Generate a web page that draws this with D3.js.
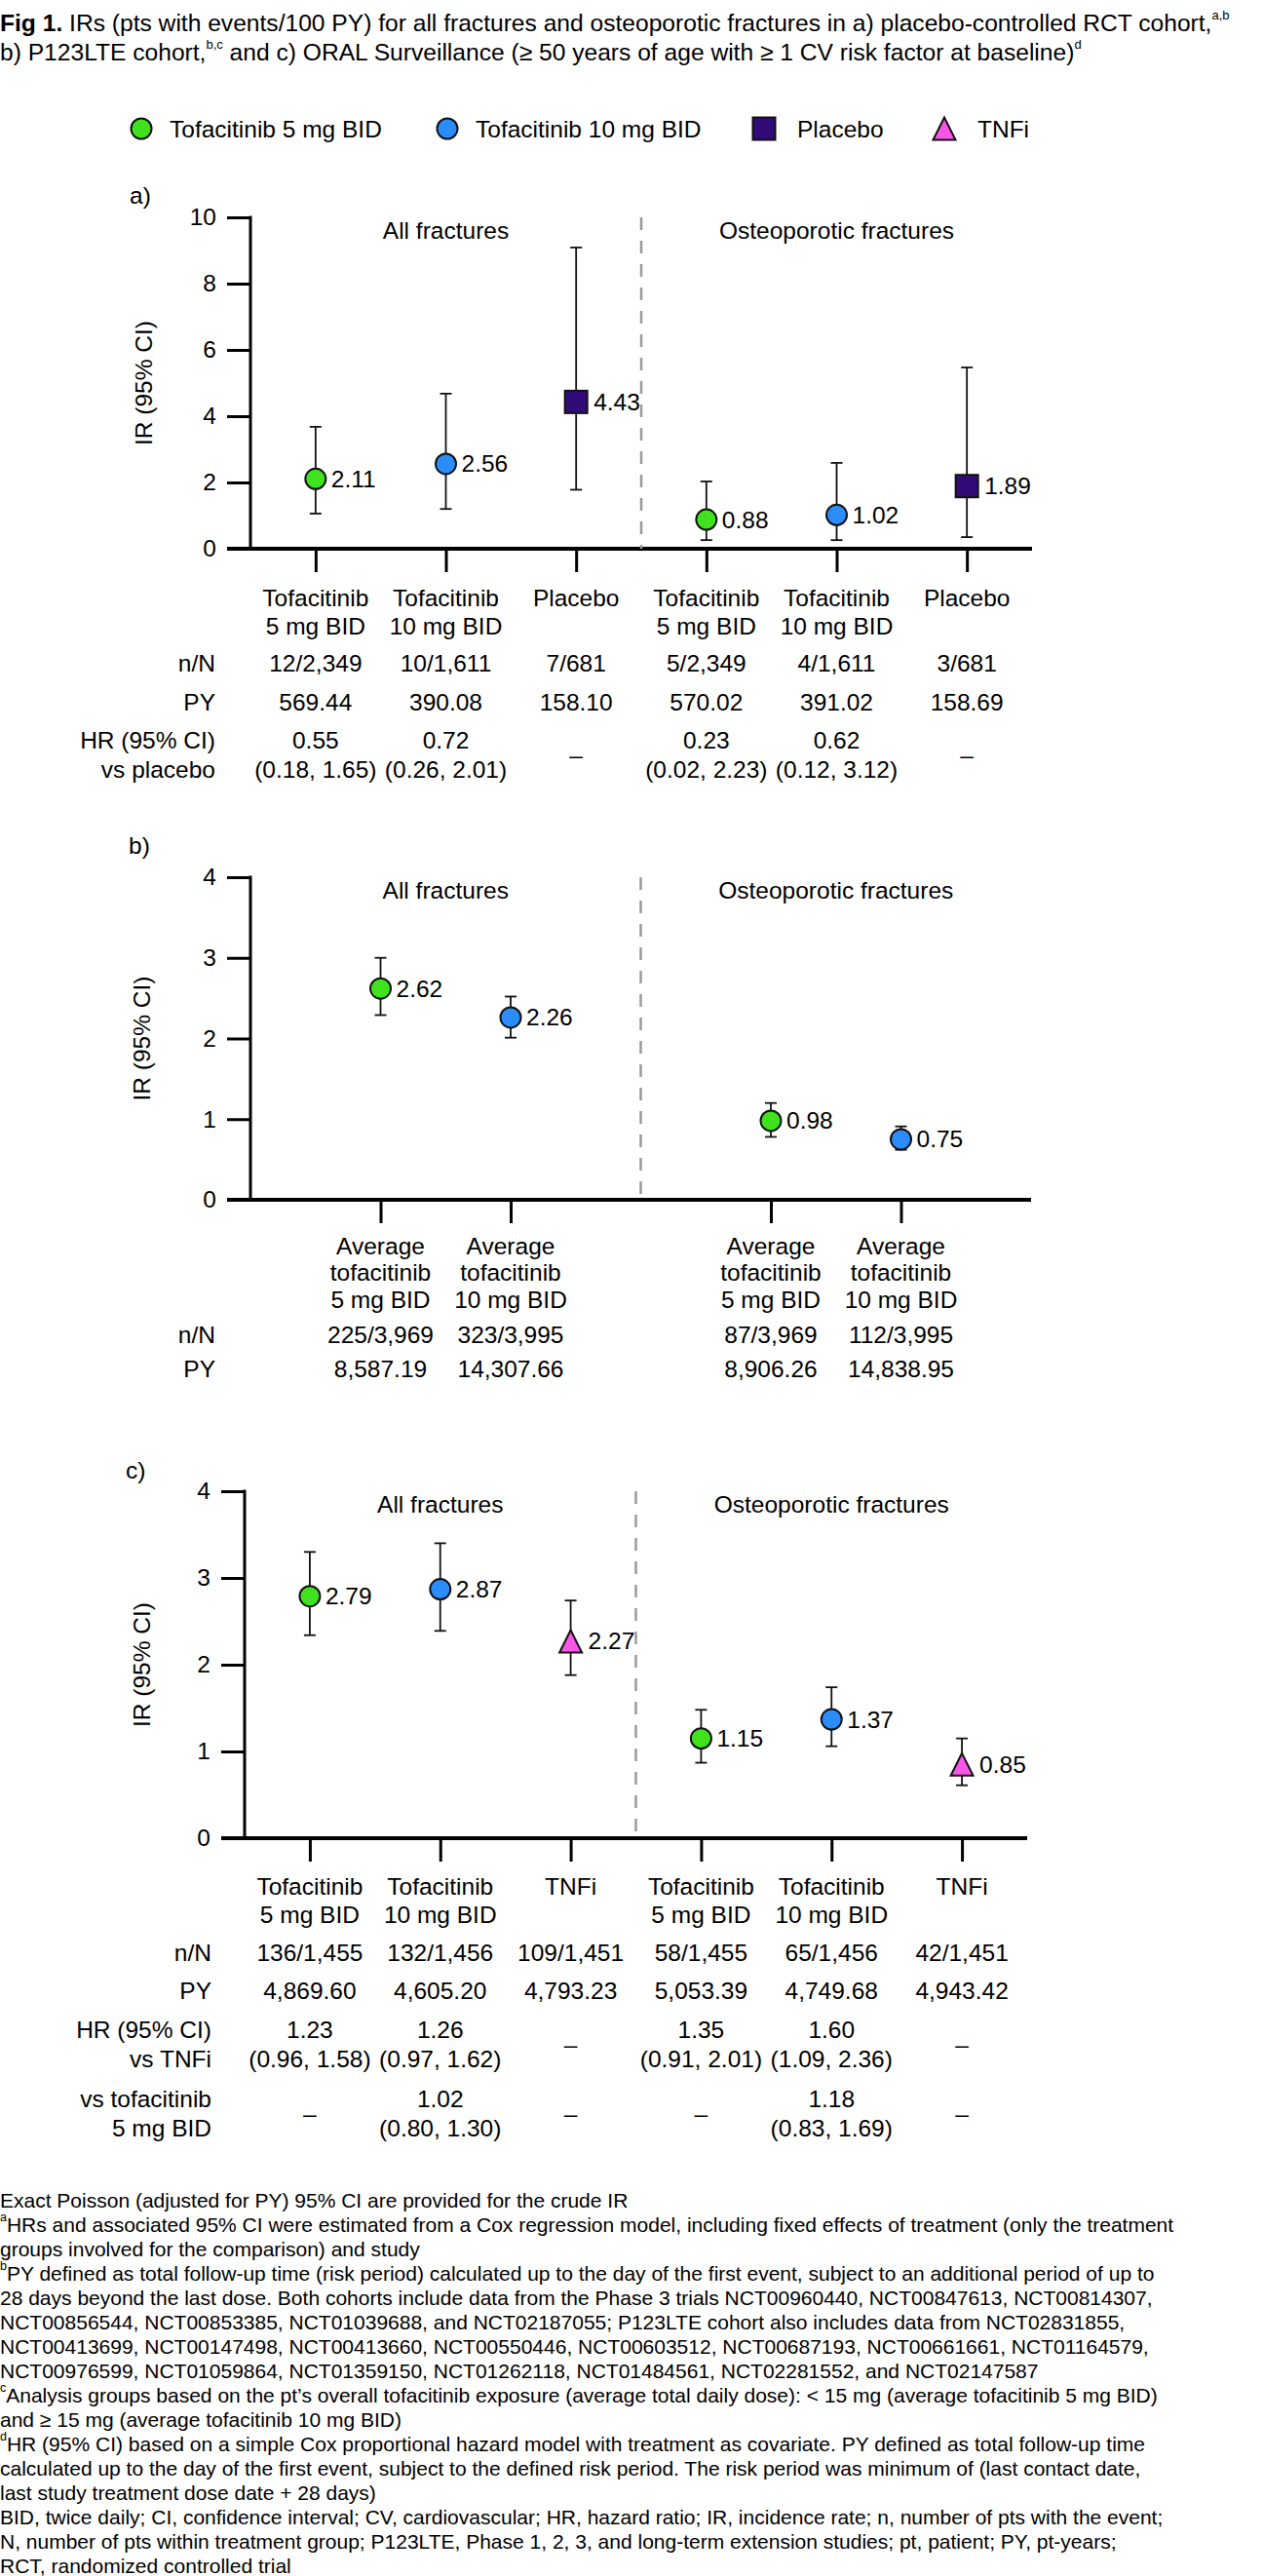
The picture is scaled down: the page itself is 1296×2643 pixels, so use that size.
<!DOCTYPE html>
<html>
<head>
<meta charset="utf-8">
<script src="https://cdn.jsdelivr.net/npm/d3@7"></script>
<style>
  body { margin: 0; background: #fff; }
  svg { display: block; font-family: "Liberation Sans", Arial, Helvetica, sans-serif; }
</style>
</head>
<body>
<svg id="chart"></svg>
<script>
// ---- data ----
const legendLabels = ["Tofacitinib 5 mg BID", "Tofacitinib 10 mg BID", "Placebo", "TNFi"];
const legendKeys = ["t5", "t10", "pbo", "tnfi"];
const colors = {t5: "#3fe21c", t10: "#2b8cfb", pbo: "#310c78", tnfi: "#f955e8"};

// a) placebo-controlled RCT cohort
const catA = [["Tofacitinib", "5 mg BID"], ["Tofacitinib", "10 mg BID"], ["Placebo"],
              ["Tofacitinib", "5 mg BID"], ["Tofacitinib", "10 mg BID"], ["Placebo"]];
const trtA = ["t5", "t10", "pbo", "t5", "t10", "pbo"];
const irA = [2.11, 2.56, 4.43, 0.88, 1.02, 1.89];
const loA = [1.06, 1.20, 1.78, 0.26, 0.26, 0.35];
const hiA = [3.68, 4.68, 9.09, 2.03, 2.59, 5.47];
const nA = ["12/2,349", "10/1,611", "7/681", "5/2,349", "4/1,611", "3/681"];
const pyA = ["569.44", "390.08", "158.10", "570.02", "391.02", "158.69"];
const hrA = [["0.55", "(0.18, 1.65)"], ["0.72", "(0.26, 2.01)"], ["–"],
             ["0.23", "(0.02, 2.23)"], ["0.62", "(0.12, 3.12)"], ["–"]];
const ticksA = [0, 2, 4, 6, 8, 10];

// b) P123LTE cohort
const catB = [["Average", "tofacitinib", "5 mg BID"], ["Average", "tofacitinib", "10 mg BID"],
              ["Average", "tofacitinib", "5 mg BID"], ["Average", "tofacitinib", "10 mg BID"]];
const trtB = ["t5", "t10", "t5", "t10"];
const irB = [2.62, 2.26, 0.98, 0.75];
const loB = [2.29, 2.01, 0.78, 0.62];
const hiB = [3.00, 2.52, 1.20, 0.91];
const nB = ["225/3,969", "323/3,995", "87/3,969", "112/3,995"];
const pyB = ["8,587.19", "14,307.66", "8,906.26", "14,838.95"];
const ticksB = [0, 1, 2, 3, 4];

// c) ORAL Surveillance
const catC = [["Tofacitinib", "5 mg BID"], ["Tofacitinib", "10 mg BID"], ["TNFi"],
              ["Tofacitinib", "5 mg BID"], ["Tofacitinib", "10 mg BID"], ["TNFi"]];
const trtC = ["t5", "t10", "tnfi", "t5", "t10", "tnfi"];
const irC = [2.79, 2.87, 2.27, 1.15, 1.37, 0.85];
const loC = [2.34, 2.39, 1.88, 0.87, 1.06, 0.61];
const hiC = [3.30, 3.40, 2.74, 1.48, 1.74, 1.15];
const nC = ["136/1,455", "132/1,456", "109/1,451", "58/1,455", "65/1,456", "42/1,451"];
const pyC = ["4,869.60", "4,605.20", "4,793.23", "5,053.39", "4,749.68", "4,943.42"];
const hrC = [["1.23", "(0.96, 1.58)"], ["1.26", "(0.97, 1.62)"], ["–"],
             ["1.35", "(0.91, 2.01)"], ["1.60", "(1.09, 2.36)"], ["–"]];
const hrC5 = [["–"], ["1.02", "(0.80, 1.30)"], ["–"], ["–"], ["1.18", "(0.83, 1.69)"], ["–"]];
const ticksC = [0, 1, 2, 3, 4];

const headings = ["All fractures", "Osteoporotic fractures"];

const footnotes = [
  ["", "Exact Poisson (adjusted for PY) 95% CI are provided for the crude IR"],
  ["a", "HRs and associated 95% CI were estimated from a Cox regression model, including fixed effects of treatment (only the treatment"],
  ["", "groups involved for the comparison) and study"],
  ["b", "PY defined as total follow-up time (risk period) calculated up to the day of the first event, subject to an additional period of up to"],
  ["", "28 days beyond the last dose. Both cohorts include data from the Phase 3 trials NCT00960440, NCT00847613, NCT00814307,"],
  ["", "NCT00856544, NCT00853385, NCT01039688, and NCT02187055; P123LTE cohort also includes data from NCT02831855,"],
  ["", "NCT00413699, NCT00147498, NCT00413660, NCT00550446, NCT00603512, NCT00687193, NCT00661661, NCT01164579,"],
  ["", "NCT00976599, NCT01059864, NCT01359150, NCT01262118, NCT01484561, NCT02281552, and NCT02147587"],
  ["c", "Analysis groups based on the pt’s overall tofacitinib exposure (average total daily dose): < 15 mg (average tofacitinib 5 mg BID)"],
  ["", "and ≥ 15 mg (average tofacitinib 10 mg BID)"],
  ["d", "HR (95% CI) based on a simple Cox proportional hazard model with treatment as covariate. PY defined as total follow-up time"],
  ["", "calculated up to the day of the first event, subject to the defined risk period. The risk period was minimum of (last contact date,"],
  ["", "last study treatment dose date + 28 days)"],
  ["", "BID, twice daily; CI, confidence interval; CV, cardiovascular; HR, hazard ratio; IR, incidence rate; n, number of pts with the event;"],
  ["", "N, number of pts within treatment group; P123LTE, Phase 1, 2, 3, and long-term extension studies; pt, patient; PY, pt-years;"],
  ["", "RCT, randomized controlled trial"]
];

// ---- drawing ----
const W = 1296, H = 2643;
const FS = 24.5;
const svg = d3.select("#chart").attr("width", W).attr("height", H);

// title
const title = svg.append("g").attr("font-size", 24.6);
const t1 = title.append("text").attr("x", 0).attr("y", 23).attr("dominant-baseline", "central");
t1.append("tspan").attr("font-weight", "bold").text("Fig 1.");
t1.append("tspan").text(" IRs (pts with events/100 PY) for all fractures and osteoporotic fractures in a) placebo-controlled RCT cohort,");
t1.append("tspan").attr("font-size", 13).attr("baseline-shift", "super").text("a,b");
const t2 = title.append("text").attr("x", 0).attr("y", 53).attr("dominant-baseline", "central");
t2.append("tspan").text("b) P123LTE cohort,");
t2.append("tspan").attr("font-size", 13).attr("baseline-shift", "super").text("b,c");
t2.append("tspan").text(" and c) ORAL Surveillance (≥ 50 years of age with ≥ 1 CV risk factor at baseline)");
t2.append("tspan").attr("font-size", 13).attr("baseline-shift", "super").text("d");

function marker(sel, key, cx, cy) {
  if (key === "pbo") {
    sel.append("rect").attr("x", cx - 11.5).attr("y", cy - 11.5).attr("width", 23).attr("height", 23)
      .attr("fill", colors[key]).attr("stroke", "#111").attr("stroke-width", 2);
  } else if (key === "tnfi") {
    sel.append("path").attr("d", `M${cx},${cy - 11.5}L${cx + 11.5},${cy + 11.5}L${cx - 11.5},${cy + 11.5}Z`)
      .attr("fill", colors[key]).attr("stroke", "#111").attr("stroke-width", 2).attr("stroke-linejoin", "miter");
  } else {
    sel.append("circle").attr("cx", cx).attr("cy", cy).attr("r", 10.5)
      .attr("fill", colors[key]).attr("stroke", "#111").attr("stroke-width", 2);
  }
}

// legend
const legendX = [145, 459, 784, 969];
const legend = svg.append("g").attr("font-size", FS);
legendKeys.forEach((k, i) => {
  marker(legend, k, legendX[i], 132);
  legend.append("text").attr("x", legendX[i] + (k === "t5" || k === "t10" ? 29 : 34)).attr("y", 132)
    .attr("dominant-baseline", "central").text(legendLabels[i]);
});

function drawPanel(p) {
  const g = svg.append("g").attr("font-size", FS);
  const keys = p.cats.map((c, i) => "k" + i);
  const domain = keys.slice();
  if (p.gap) domain.splice(p.nAll, 0, "gap");
  const x = d3.scalePoint().domain(domain).range([p.left, p.right]).padding(p.pad);
  const y = d3.scaleLinear().domain([0, d3.max(p.ticks)]).range([p.bottom, p.top]);

  // panel tag
  g.append("text").attr("x", p.tagX).attr("y", p.tagY).attr("dominant-baseline", "central").text(p.tag);

  // y axis
  const ya = g.append("g").attr("transform", `translate(${p.left},0)`)
    .call(d3.axisLeft(y).tickValues(p.ticks).tickSize(24).tickPadding(11).tickFormat(d3.format("d")));
  ya.select(".domain").remove();
  ya.selectAll("line").attr("stroke", "#000").attr("stroke-width", 3);
  ya.selectAll("text").attr("font-size", FS).attr("fill", "#000").attr("font-family", null);
  ya.attr("font-family", null);
  g.append("line").attr("x1", p.left).attr("x2", p.left).attr("y1", y.range()[1] - 1.5).attr("y2", y(0))
    .attr("stroke", "#000").attr("stroke-width", 3);

  // x axis
  const xa = g.append("g").attr("transform", `translate(0,${y(0)})`)
    .call(d3.axisBottom(x).tickValues(keys).tickSize(24).tickFormat(""));
  xa.select(".domain").remove();
  xa.selectAll("line").attr("stroke", "#000").attr("stroke-width", 3);
  g.append("line").attr("x1", p.left - 24).attr("x2", p.right).attr("y1", y(0)).attr("y2", y(0))
    .attr("stroke", "#000").attr("stroke-width", 4);

  // y title
  g.append("text").attr("transform", `translate(${p.titleX},${(y.range()[0] + y.range()[1]) / 2}) rotate(-90)`)
    .attr("text-anchor", "middle").attr("dominant-baseline", "central").text("IR (95% CI)");

  // divider
  const xd = p.gap ? x("gap") : (x(keys[p.nAll - 1]) + x(keys[p.nAll])) / 2;
  g.append("line").attr("x1", xd).attr("x2", xd).attr("y1", y.range()[1]).attr("y2", y(0))
    .attr("stroke", "#9a9a9a").attr("stroke-width", 2.5).attr("stroke-dasharray", "13,11");

  // headings
  const groups = [keys.slice(0, p.nAll), keys.slice(p.nAll)];
  groups.forEach((gk, i) => {
    g.append("text").attr("x", d3.mean(gk, k => x(k))).attr("y", y.range()[1] + 13)
      .attr("text-anchor", "middle").attr("dominant-baseline", "central").text(headings[i]);
  });

  // error bars
  keys.forEach((k, i) => {
    const cx = x(k);
    g.append("line").attr("x1", cx).attr("x2", cx).attr("y1", y(p.lo[i])).attr("y2", y(p.hi[i]))
      .attr("stroke", "#111").attr("stroke-width", 1.8);
    [p.lo[i], p.hi[i]].forEach(v => {
      g.append("line").attr("x1", cx - 6).attr("x2", cx + 6).attr("y1", y(v)).attr("y2", y(v))
        .attr("stroke", "#111").attr("stroke-width", 1.8);
    });
  });

  // markers and value labels
  keys.forEach((k, i) => {
    const cx = x(k), cy = y(p.ir[i]);
    marker(g, p.trt[i], cx, cy);
    const off = p.trt[i] === "pbo" || p.trt[i] === "tnfi" ? 18 : 16;
    g.append("text").attr("x", cx + off).attr("y", cy).attr("dominant-baseline", "central")
      .text(d3.format(".2f")(p.ir[i]));
  });

  // category labels
  keys.forEach((k, i) => {
    p.cats[i].forEach((line, j) => {
      g.append("text").attr("x", x(k)).attr("y", y(0) + p.labY + j * p.labDy)
        .attr("text-anchor", "middle").attr("dominant-baseline", "central").text(line);
    });
  });

  // table rows
  p.rows.forEach(r => {
    const ry = y(0) + r.dy;
    r.name.forEach((line, j) => {
      g.append("text").attr("x", p.rowX).attr("y", ry + j * 30).attr("text-anchor", "end")
        .attr("dominant-baseline", "central").text(line);
    });
    const nLines = r.name.length;
    keys.forEach((k, i) => {
      const v = Array.isArray(r.vals[i]) ? r.vals[i] : [r.vals[i]];
      const start = ry + (nLines - v.length) * 15;
      v.forEach((line, j) => {
        g.append("text").attr("x", x(k)).attr("y", start + j * 30).attr("text-anchor", "middle")
          .attr("dominant-baseline", "central").text(line);
      });
    });
  });
}

drawPanel({
  tag: "a)", tagX: 133, tagY: 200, titleX: 147,
  left: 257, right: 1059, top: 223, bottom: 563, pad: 0.5, ticks: ticksA,
  cats: catA, trt: trtA, ir: irA, lo: loA, hi: hiA, nAll: 3, gap: false,
  labY: 50, labDy: 29, rowX: 221,
  rows: [
    {name: ["n/N"], vals: nA, dy: 117},
    {name: ["PY"], vals: pyA, dy: 157},
    {name: ["HR (95% CI)", "vs placebo"], vals: hrA, dy: 196}
  ]
});

drawPanel({
  tag: "b)", tagX: 132, tagY: 867, titleX: 145,
  left: 257, right: 1058, top: 900, bottom: 1231, pad: 1, ticks: ticksB,
  cats: catB, trt: trtB, ir: irB, lo: loB, hi: hiB, nAll: 2, gap: true,
  labY: 47, labDy: 27.5, rowX: 221,
  rows: [
    {name: ["n/N"], vals: nB, dy: 138},
    {name: ["PY"], vals: pyB, dy: 173}
  ]
});

drawPanel({
  tag: "c)", tagX: 129, tagY: 1508, titleX: 145,
  left: 251, right: 1054, top: 1530, bottom: 1886, pad: 0.5, ticks: ticksC,
  cats: catC, trt: trtC, ir: irC, lo: loC, hi: hiC, nAll: 3, gap: false,
  labY: 49, labDy: 29, rowX: 217,
  rows: [
    {name: ["n/N"], vals: nC, dy: 117},
    {name: ["PY"], vals: pyC, dy: 156},
    {name: ["HR (95% CI)", "vs TNFi"], vals: hrC, dy: 196},
    {name: ["vs tofacitinib", "5 mg BID"], vals: hrC5, dy: 267}
  ]
});

// footnotes
const fn = svg.append("g").attr("font-size", 21);
footnotes.forEach((f, i) => {
  const t = fn.append("text").attr("x", 0).attr("y", 2257 + i * 25).attr("dominant-baseline", "central");
  if (f[0]) t.append("tspan").attr("font-size", 12.5).attr("baseline-shift", "super").text(f[0]);
  t.append("tspan").text(f[1]);
});
</script>
</body>
</html>
